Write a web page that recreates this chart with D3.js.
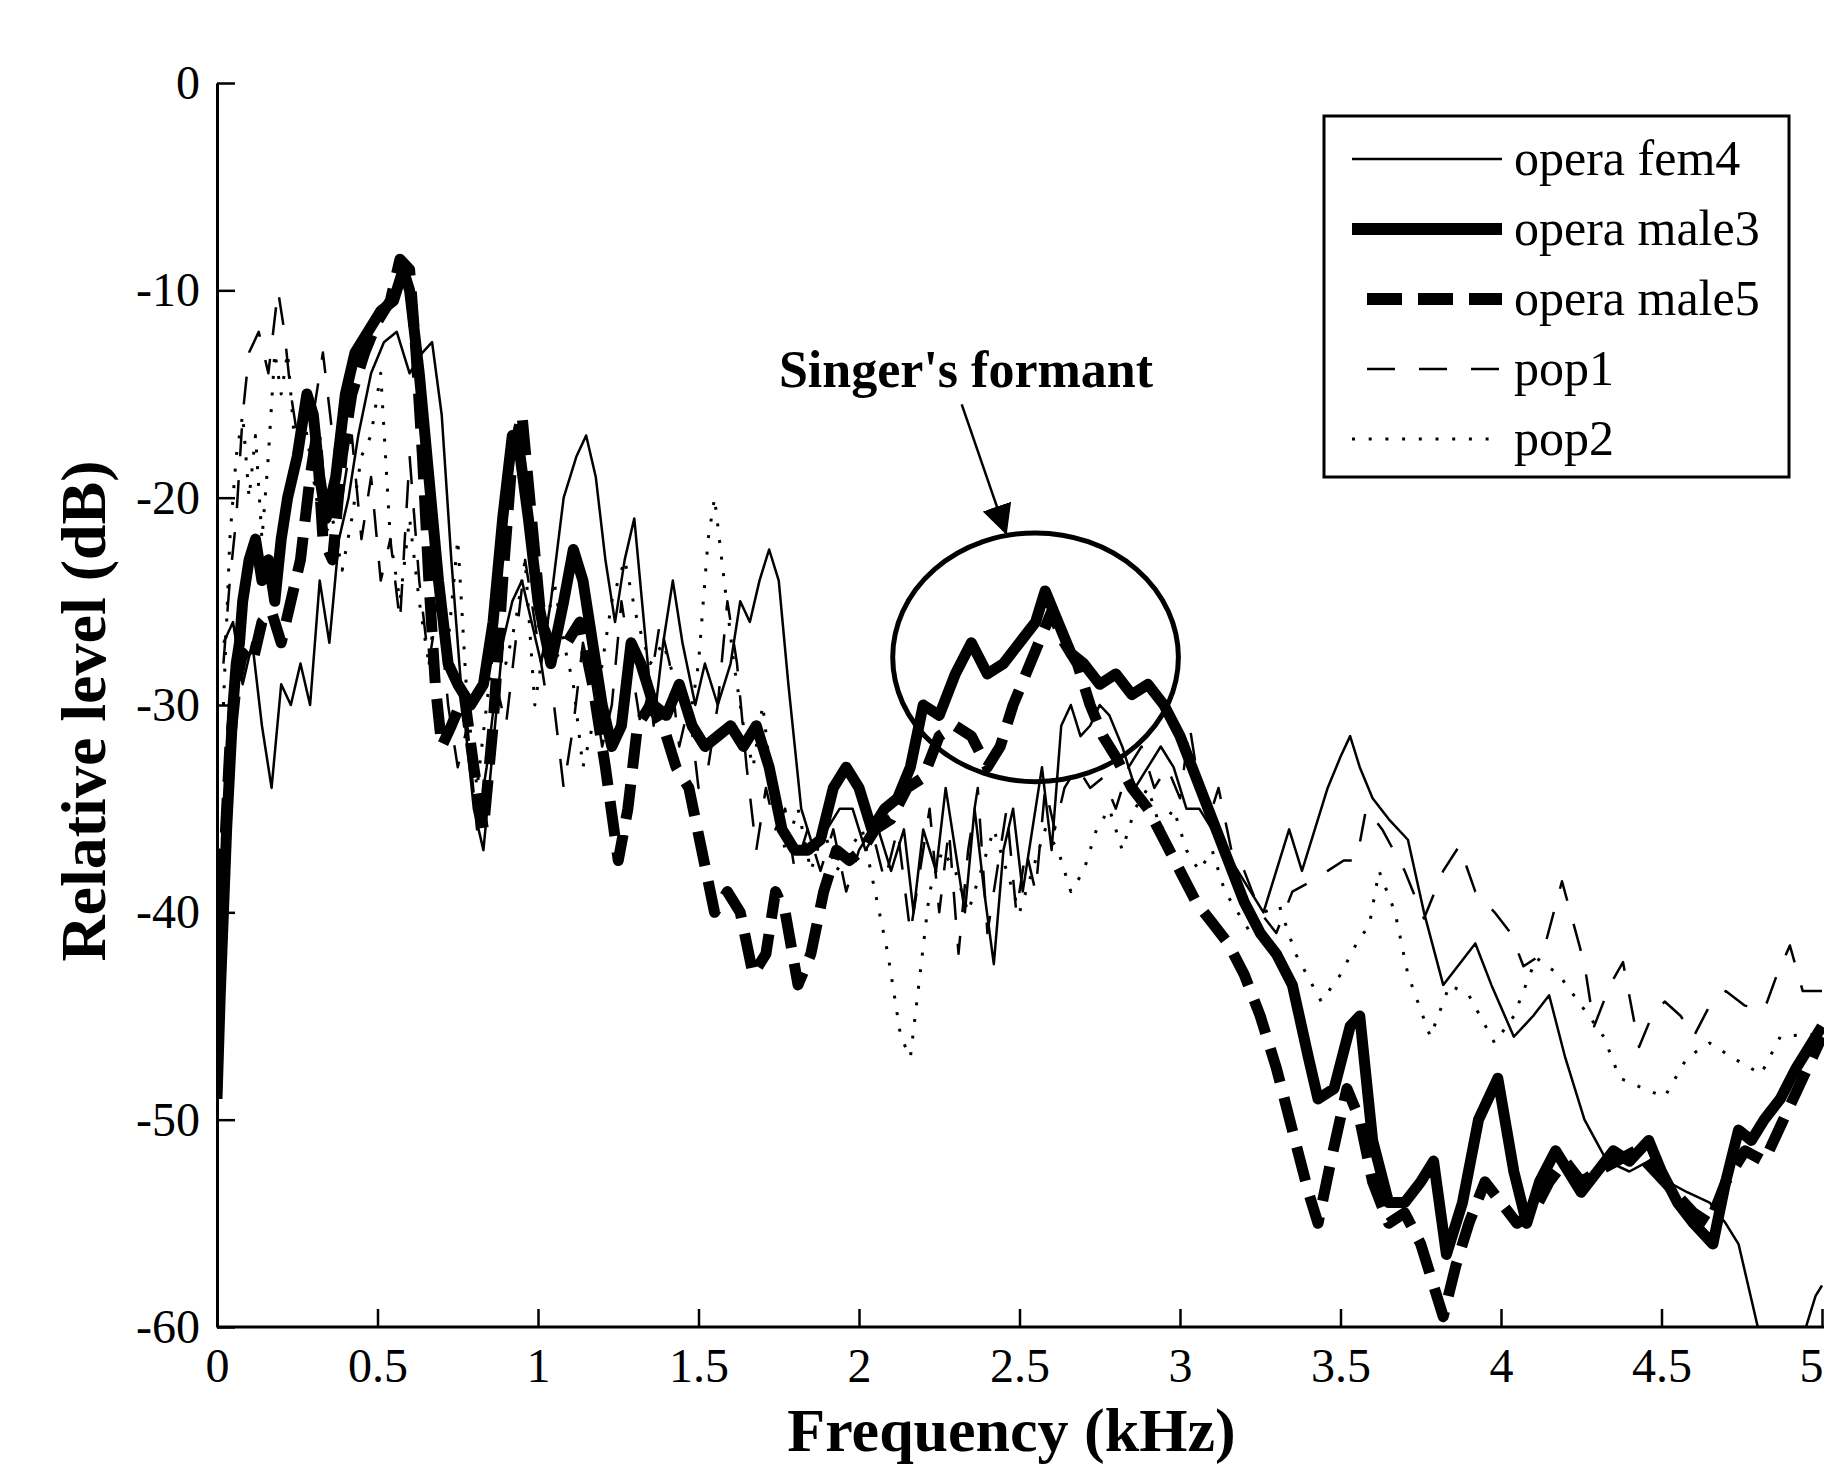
<!DOCTYPE html>
<html>
<head>
<meta charset="utf-8">
<script src="https://cdn.jsdelivr.net/npm/d3@7"></script>
<style>
body { margin: 0; background: #fff; }
text { font-family: "Liberation Serif", "Times New Roman", serif; fill: #000; }
</style>
</head>
<body>
<div class="container"></div>
<script>
// spectra, [kHz, dB]
var operaFem4 = [[0.02,-27],[0.05,-26],[0.08,-29],[0.11,-27],[0.14,-31],[0.17,-34],[0.20,-29],[0.23,-30],[0.26,-28],[0.29,-30],[0.32,-24],[0.35,-27],[0.38,-22],[0.41,-20],[0.44,-17],[0.48,-14],[0.52,-12.5],[0.56,-12],[0.60,-14],[0.64,-13],[0.67,-12.5],[0.70,-16],[0.73,-23],[0.76,-29],[0.80,-35],[0.83,-37],[0.86,-32],[0.89,-27],[0.92,-25],[0.95,-24],[0.98,-26],[1.01,-28],[1.04,-25],[1.08,-20],[1.12,-18],[1.15,-17],[1.18,-19],[1.21,-23],[1.24,-26],[1.27,-23],[1.30,-21],[1.33,-26],[1.36,-31],[1.39,-27],[1.42,-24],[1.45,-27],[1.49,-30],[1.52,-28],[1.56,-30],[1.60,-28],[1.63,-25],[1.66,-26],[1.69,-24],[1.72,-22.5],[1.75,-24],[1.78,-29],[1.82,-35],[1.86,-37],[1.90,-36],[1.94,-35],[1.98,-35],[2.02,-37],[2.06,-36],[2.10,-38],[2.14,-36],[2.17,-40],[2.20,-36],[2.24,-38],[2.27,-34],[2.30,-37],[2.33,-40],[2.36,-35],[2.39,-39],[2.42,-42.5],[2.45,-37],[2.48,-35],[2.51,-39],[2.54,-36],[2.57,-33],[2.60,-37],[2.63,-31],[2.66,-30],[2.69,-31.5],[2.72,-31],[2.75,-30],[2.78,-30.5],[2.82,-32],[2.86,-34],[2.90,-33],[2.94,-32],[2.98,-33],[3.02,-35],[3.06,-35],[3.10,-36],[3.14,-37],[3.18,-38],[3.22,-39],[3.26,-40],[3.30,-38],[3.34,-36],[3.38,-38],[3.42,-36],[3.46,-34],[3.50,-32.5],[3.53,-31.5],[3.56,-33],[3.60,-34.5],[3.65,-35.5],[3.71,-36.5],[3.76,-40],[3.82,-43.5],[3.87,-42.5],[3.92,-41.5],[3.97,-43.5],[4.04,-46],[4.10,-45],[4.15,-44],[4.20,-47],[4.26,-50],[4.33,-52],[4.40,-52.5],[4.46,-52],[4.52,-53],[4.58,-53.5],[4.65,-54],[4.70,-55],[4.74,-56],[4.77,-58],[4.80,-60],[4.95,-60],[4.98,-58.5],[5.00,-58]];

var operaMale3 = [[0.00,-49],[0.01,-44],[0.02,-40],[0.03,-36],[0.04,-33],[0.05,-30],[0.06,-28],[0.07,-27],[0.08,-25],[0.10,-23],[0.12,-22],[0.14,-24],[0.16,-23],[0.18,-25],[0.20,-22],[0.22,-20],[0.25,-18],[0.28,-15],[0.30,-16],[0.32,-19],[0.34,-21],[0.37,-19],[0.40,-15],[0.43,-13],[0.47,-12],[0.51,-11],[0.55,-10.5],[0.58,-9],[0.60,-10],[0.63,-14],[0.66,-19],[0.69,-24],[0.72,-28],[0.75,-29],[0.79,-30],[0.83,-29],[0.86,-26],[0.89,-21],[0.92,-17],[0.94,-17.5],[0.97,-21],[1.00,-25],[1.04,-28],[1.08,-25],[1.11,-22.5],[1.14,-24],[1.17,-27],[1.20,-30],[1.23,-32],[1.26,-31],[1.29,-27],[1.32,-28],[1.36,-30],[1.40,-30.5],[1.44,-29],[1.48,-31],[1.52,-32],[1.56,-31.5],[1.60,-31],[1.64,-32],[1.68,-31],[1.72,-33],[1.76,-36],[1.80,-37],[1.84,-37],[1.88,-36.5],[1.92,-34],[1.96,-33],[2.00,-34],[2.04,-36],[2.08,-35],[2.12,-34.5],[2.16,-33],[2.20,-30],[2.25,-30.5],[2.30,-28.5],[2.35,-27],[2.40,-28.5],[2.45,-28],[2.50,-27],[2.55,-26],[2.58,-24.5],[2.62,-26],[2.66,-27.5],[2.70,-28],[2.75,-29],[2.80,-28.5],[2.85,-29.5],[2.90,-29],[2.95,-30],[3.00,-31.5],[3.05,-33.5],[3.10,-35.5],[3.15,-37.5],[3.20,-39.5],[3.25,-41],[3.30,-42],[3.35,-43.5],[3.40,-47],[3.43,-49],[3.48,-48.5],[3.53,-45.5],[3.56,-45],[3.60,-51],[3.65,-54],[3.70,-54],[3.75,-53],[3.79,-52],[3.83,-56.5],[3.88,-54],[3.93,-50],[3.99,-48],[4.04,-52.5],[4.08,-55],[4.12,-53],[4.17,-51.5],[4.21,-52.5],[4.25,-53.5],[4.30,-52.5],[4.35,-51.5],[4.40,-52],[4.46,-51],[4.50,-52.5],[4.55,-54],[4.60,-55],[4.66,-56],[4.70,-53],[4.74,-50.5],[4.78,-51],[4.82,-50],[4.87,-49],[4.92,-47.5],[4.96,-46.5],[5.00,-45.5]];

var operaMale5 = [[0.00,-46],[0.02,-38],[0.04,-32],[0.06,-29],[0.08,-27.5],[0.11,-28],[0.14,-26],[0.17,-25.5],[0.20,-27],[0.23,-25],[0.26,-23],[0.29,-19],[0.31,-17],[0.33,-22],[0.36,-23],[0.39,-18],[0.42,-15],[0.46,-13],[0.50,-11.5],[0.54,-10.5],[0.57,-8.5],[0.60,-9],[0.62,-13],[0.64,-18],[0.66,-24],[0.68,-29],[0.70,-32],[0.73,-31],[0.77,-29.5],[0.80,-33],[0.83,-36],[0.86,-31],[0.89,-24],[0.92,-18],[0.95,-16],[0.98,-21],[1.01,-26],[1.05,-27.5],[1.09,-27],[1.13,-26],[1.17,-29],[1.21,-33],[1.25,-37.5],[1.28,-35],[1.31,-31],[1.35,-30],[1.39,-31],[1.43,-33],[1.47,-34],[1.51,-37],[1.55,-40],[1.59,-39],[1.63,-40],[1.67,-43],[1.71,-42],[1.74,-39],[1.77,-40],[1.81,-43.5],[1.85,-42],[1.89,-39],[1.93,-37],[1.97,-37.5],[2.01,-37],[2.05,-36],[2.10,-35.5],[2.15,-34],[2.20,-33.5],[2.25,-31.5],[2.30,-31],[2.35,-31.5],[2.40,-33],[2.44,-32],[2.48,-30],[2.52,-28.5],[2.56,-27],[2.60,-25.5],[2.64,-27],[2.68,-28],[2.72,-30],[2.76,-31.5],[2.80,-32.5],[2.85,-34],[2.90,-35],[2.95,-36.5],[3.00,-38],[3.05,-39.5],[3.10,-40.5],[3.15,-41.5],[3.20,-43],[3.25,-45],[3.30,-47.5],[3.35,-50.5],[3.40,-53.5],[3.43,-55],[3.47,-52],[3.52,-48.5],[3.56,-50],[3.60,-53],[3.65,-55],[3.70,-54.5],[3.75,-56],[3.79,-58],[3.82,-59.5],[3.86,-57],[3.90,-55],[3.95,-53],[4.00,-54],[4.05,-55],[4.10,-54.5],[4.15,-53],[4.20,-52],[4.25,-53],[4.30,-52.5],[4.36,-52],[4.42,-51.5],[4.48,-52.5],[4.54,-53.5],[4.60,-54.5],[4.65,-55],[4.70,-53],[4.76,-51.5],[4.82,-52],[4.88,-50],[4.94,-48],[5.00,-46]];

var pop1 = [[0.02,-28],[0.04,-24],[0.06,-21],[0.08,-16],[0.10,-13],[0.13,-12],[0.16,-14],[0.19,-10],[0.21,-12],[0.23,-15],[0.25,-17],[0.27,-15],[0.30,-16],[0.33,-13],[0.36,-17],[0.39,-20],[0.42,-17],[0.45,-22],[0.48,-19],[0.51,-24],[0.54,-22],[0.57,-26],[0.60,-18],[0.63,-24],[0.66,-28],[0.69,-25],[0.72,-30],[0.75,-33],[0.78,-31],[0.81,-36],[0.84,-33],[0.87,-29],[0.90,-31],[0.93,-27],[0.96,-23],[0.99,-26],[1.02,-29],[1.05,-30],[1.08,-34],[1.11,-31],[1.14,-27],[1.17,-29],[1.20,-32],[1.23,-30],[1.26,-25],[1.29,-28],[1.32,-31],[1.35,-29],[1.38,-26],[1.41,-28],[1.44,-32],[1.47,-30],[1.50,-34],[1.53,-33],[1.56,-30],[1.59,-25],[1.62,-28],[1.65,-33],[1.68,-37],[1.71,-34],[1.74,-36],[1.77,-35],[1.80,-38],[1.84,-36],[1.88,-38],[1.92,-36],[1.96,-39],[2.00,-37],[2.04,-36],[2.08,-38.5],[2.12,-36],[2.16,-41],[2.19,-38],[2.22,-35],[2.25,-40],[2.28,-36],[2.31,-42],[2.34,-37],[2.37,-34],[2.40,-41],[2.43,-38],[2.46,-35],[2.49,-40],[2.52,-37],[2.55,-39],[2.58,-34],[2.61,-36],[2.64,-34],[2.68,-33],[2.72,-34],[2.76,-33.5],[2.80,-35],[2.84,-33],[2.88,-32],[2.92,-34],[2.96,-33],[3.00,-34.5],[3.03,-31],[3.06,-34],[3.09,-35.5],[3.12,-34],[3.16,-37],[3.20,-38],[3.25,-40],[3.30,-41],[3.35,-39],[3.41,-38.5],[3.46,-38],[3.51,-37.5],[3.55,-37.5],[3.58,-35],[3.63,-36],[3.70,-38],[3.76,-40.3],[3.82,-38],[3.87,-36.8],[3.92,-39],[3.98,-40],[4.03,-41],[4.07,-42.6],[4.13,-42],[4.19,-38.5],[4.26,-42.5],[4.29,-45.5],[4.34,-43.5],[4.38,-42.4],[4.43,-46.5],[4.47,-45],[4.51,-44.3],[4.56,-45],[4.60,-46],[4.65,-44.5],[4.70,-43.8],[4.76,-44.5],[4.82,-44.7],[4.86,-43],[4.90,-41.6],[4.94,-43.8],[5.00,-43.8]];

var pop2 = [[0.02,-30],[0.04,-22],[0.06,-18],[0.08,-16],[0.10,-20],[0.12,-17],[0.14,-22],[0.16,-18],[0.18,-13],[0.20,-15],[0.22,-13],[0.24,-17],[0.27,-16],[0.30,-19],[0.33,-22],[0.36,-21],[0.39,-23.5],[0.42,-21],[0.45,-18],[0.48,-17],[0.51,-14],[0.54,-22],[0.57,-25],[0.60,-21],[0.63,-25],[0.66,-28],[0.69,-24],[0.72,-27],[0.75,-22],[0.78,-30],[0.81,-34],[0.84,-30],[0.87,-26],[0.90,-28],[0.93,-26],[0.96,-23],[0.99,-30],[1.02,-27],[1.05,-24],[1.08,-27],[1.11,-29],[1.14,-33],[1.17,-31],[1.20,-28],[1.23,-25],[1.27,-23],[1.31,-26],[1.35,-28],[1.39,-27],[1.43,-29],[1.47,-31],[1.50,-28],[1.53,-22],[1.55,-20],[1.58,-24],[1.61,-28],[1.64,-31],[1.67,-33],[1.70,-30],[1.73,-34],[1.77,-37],[1.81,-35],[1.85,-38],[1.89,-36],[1.93,-38],[1.97,-37],[2.01,-36],[2.05,-39],[2.09,-42],[2.13,-46],[2.16,-47],[2.19,-43],[2.22,-39],[2.26,-37],[2.30,-38],[2.34,-40],[2.38,-38],[2.42,-36],[2.46,-38],[2.50,-40],[2.54,-38],[2.58,-36],[2.62,-37],[2.66,-39],[2.70,-38],[2.74,-36],[2.78,-35],[2.82,-37],[2.86,-35],[2.90,-34],[2.94,-36],[2.98,-35],[3.02,-37],[3.06,-38],[3.10,-37],[3.14,-39],[3.18,-40],[3.22,-41],[3.26,-40],[3.31,-39.7],[3.36,-42],[3.44,-44.3],[3.50,-43],[3.55,-41.5],[3.59,-40.6],[3.62,-38],[3.67,-40],[3.71,-43],[3.78,-46],[3.84,-43.5],[3.90,-44],[3.98,-46.3],[4.04,-45],[4.11,-42.2],[4.18,-43],[4.26,-44.7],[4.32,-46],[4.37,-48],[4.46,-48.6],[4.51,-48.9],[4.58,-47],[4.65,-46.3],[4.72,-47],[4.81,-47.8],[4.87,-46],[4.94,-45.9],[5.00,-45.9]];

var seriesNames = ['opera fem4', 'opera male3', 'opera male5', 'pop1', 'pop2'];
var xTicks = [0, 0.5, 1, 1.5, 2, 2.5, 3, 3.5, 4, 4.5, 5];
var yTicks = [0, -10, -20, -30, -40, -50, -60];

const WIDTH = 1824;
const HEIGHT = 1467;
const LEFT = 217;
const RIGHT = 1822;
const TOP = 83;
const BOTTOM = 1327;

var styles = [
	{w: 2.5, dash: null, off: 0},
	{w: 11, dash: null, off: 0},
	{w: 11, dash: '35,16', off: 36},
	{w: 2.5, dash: '28,24', off: 37},
	{w: 3, dash: '3,13.7', off: 0}
];

var svg = d3.select('.container').append('svg')
	.attr('width', WIDTH)
	.attr('height', HEIGHT)
	.style('display', 'block');

svg.append('rect').attr('width', WIDTH).attr('height', HEIGHT).attr('fill', '#fff');

var xScale = d3.scaleLinear().domain([0, 5]).range([LEFT, RIGHT]);
var yScale = d3.scaleLinear().domain([-60, 0]).range([BOTTOM, TOP]);

svg.append('clipPath').attr('id', 'plot')
	.append('rect')
	.attr('x', LEFT).attr('y', TOP - 10)
	.attr('width', WIDTH - LEFT).attr('height', BOTTOM - TOP + 10);

var line = d3.line()
	.x(function(d){ return xScale(d[0]); })
	.y(function(d){ return yScale(d[1]); });

var data = [operaFem4, operaMale3, operaMale5, pop1, pop2];
var g = svg.append('g').attr('clip-path', 'url(#plot)');
data.forEach(function(s, i){
	var p = g.append('path')
		.attr('d', line(s))
		.attr('fill', 'none')
		.attr('stroke', '#000')
		.attr('stroke-width', styles[i].w)
		.attr('stroke-linejoin', 'round');
	if (styles[i].dash) p.attr('stroke-dasharray', styles[i].dash);
});

// axes
var xAxis = d3.axisBottom(xScale).tickValues(xTicks).tickSize(-18).tickSizeOuter(0)
	.tickPadding(21).tickFormat(function(d){ return String(d); });
var yAxis = d3.axisLeft(yScale).tickValues(yTicks).tickSize(-18).tickSizeOuter(0)
	.tickPadding(17).tickFormat(function(d){ return String(d); });

var gx = svg.append('g').attr('transform', 'translate(0,' + BOTTOM + ')').call(xAxis);
var gy = svg.append('g').attr('transform', 'translate(' + LEFT + ',0)').call(yAxis);

[gx, gy].forEach(function(a){
	a.select('.domain').attr('stroke', '#000').attr('stroke-width', 3);
	a.selectAll('.tick line').attr('stroke', '#000').attr('stroke-width', 2.5);
	a.selectAll('.tick text')
		.style('font-family', '"Liberation Serif", "Times New Roman", serif')
		.style('font-size', '48px')
		.attr('fill', '#000');
});
gx.select('.domain').attr('d', 'M' + LEFT + ',0H' + WIDTH);
// last label sits at the page edge, keep it inside
gx.selectAll('.tick text').filter(function(d){ return d == 5; }).attr('text-anchor', 'end').attr('x', 1);

svg.append('text')
	.attr('x', (LEFT + RIGHT) / 2 - 8)
	.attr('y', 1451)
	.attr('text-anchor', 'middle')
	.style('font-size', '62px')
	.style('font-weight', 'bold')
	.text('Frequency (kHz)');

svg.append('text')
	.attr('transform', 'translate(105,' + ((TOP + BOTTOM) / 2 + 6) + ') rotate(-90)')
	.attr('text-anchor', 'middle')
	.style('font-size', '64px')
	.style('font-weight', 'bold')
	.text('Relative level (dB)');

// singer's formant annotation
svg.append('ellipse')
	.attr('cx', xScale(2.55))
	.attr('cy', yScale(-27.7))
	.attr('rx', xScale(0.445) - xScale(0))
	.attr('ry', yScale(-6) - yScale(0))
	.attr('fill', 'none')
	.attr('stroke', '#000')
	.attr('stroke-width', 5);

svg.append('defs').append('marker')
	.attr('id', 'arrow')
	.attr('viewBox', '0 0 10 10')
	.attr('refX', 10).attr('refY', 5)
	.attr('markerWidth', 30).attr('markerHeight', 30)
	.attr('markerUnits', 'userSpaceOnUse')
	.attr('orient', 'auto')
	.append('path').attr('d', 'M0,0L10,5L0,10Z').attr('fill', '#000');

svg.append('line')
	.attr('x1', xScale(2.32)).attr('y1', yScale(-15.5))
	.attr('x2', xScale(2.46)).attr('y2', yScale(-21.8))
	.attr('stroke', '#000').attr('stroke-width', 2.5)
	.attr('marker-end', 'url(#arrow)');

svg.append('text')
	.attr('x', 966)
	.attr('y', 387)
	.attr('text-anchor', 'middle')
	.style('font-size', '52px')
	.style('font-weight', 'bold')
	.text("Singer's formant");

// legend
var legend = svg.append('g');
legend.append('rect')
	.attr('x', 1324).attr('y', 116)
	.attr('width', 465).attr('height', 361)
	.attr('fill', '#fff')
	.attr('stroke', '#000').attr('stroke-width', 3);

seriesNames.forEach(function(name, i){
	var ly = 159 + i * 70;
	var l = legend.append('line')
		.attr('x1', 1352).attr('x2', 1502)
		.attr('y1', ly).attr('y2', ly)
		.attr('stroke', '#000')
		.attr('stroke-width', (i == 1 || i == 2) ? 12 : styles[i].w);
	if (styles[i].dash) l.attr('stroke-dasharray', styles[i].dash).attr('stroke-dashoffset', styles[i].off);
	legend.append('text')
		.attr('x', 1514).attr('y', ly + 16)
		.style('font-size', '50px')
		.text(name);
});
</script>
</body>
</html>
